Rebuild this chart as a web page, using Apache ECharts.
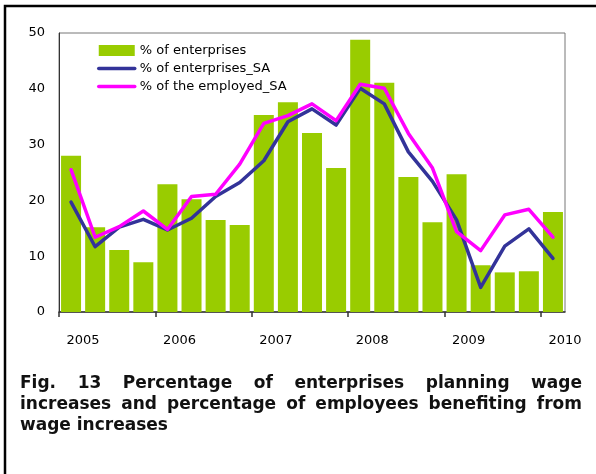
<!DOCTYPE html>
<html>
<head>
<meta charset="utf-8">
<script src="https://cdn.jsdelivr.net/npm/echarts@6/dist/echarts.min.js"></script>
<style>
html,body{margin:0;padding:0;background:#fff;}
#chart{width:596px;height:474px;}
</style>
</head>
<body>
<div id="chart"></div>
<script>
// ---- data ----
const categories = ['2005Q1','2005Q2','2005Q3','2005Q4','2006Q1','2006Q2','2006Q3','2006Q4',
  '2007Q1','2007Q2','2007Q3','2007Q4','2008Q1','2008Q2','2008Q3','2008Q4',
  '2009Q1','2009Q2','2009Q3','2009Q4','2010Q1'];
const yearLabels = ['2005','2006','2007','2008','2009','2010'];
const enterprises = [28.0,15.2,11.1,8.9,22.9,20.2,16.5,15.6,35.3,37.6,32.1,25.8,48.8,41.1,24.2,16.1,24.7,8.4,7.1,7.3,17.9];
const enterprisesSA = [19.7,11.7,15.2,16.6,14.7,16.8,20.7,23.2,27.1,34.1,36.4,33.5,40.1,37.3,28.7,23.4,16.5,4.4,11.8,14.9,9.6];
const employedSA = [25.5,13.4,15.3,18.1,14.8,20.7,21.1,26.5,33.8,35.2,37.3,34.3,40.8,40.1,32.0,25.8,14.4,11.0,17.4,18.4,13.4];
const seriesNames = ['% of enterprises','% of enterprises_SA','% of the employed_SA'];
const captionLines = [
  'Fig. 13 Percentage of enterprises planning wage',
  'increases and percentage of employees benefiting from',
  'wage increases'
];

// ---- caption layout (justified) ----
const capFont = 'bold 17px "DejaVu Sans"';
const capLeft = 20, capRight = 582, capTop = 384, capLineH = 21;
const mctx = document.createElement('canvas').getContext('2d');
mctx.font = capFont;
const captionGraphics = [];
captionLines.forEach(function (line, li) {
  const words = line.split(' ');
  const y = capTop + li * capLineH;
  const last = li === captionLines.length - 1;
  const widths = words.map(w => mctx.measureText(w).width);
  const total = widths.reduce((a, b) => a + b, 0);
  const spaceW = mctx.measureText(' ').width;
  let gap = last ? spaceW : (capRight - capLeft - total) / (words.length - 1);
  let x = capLeft;
  words.forEach(function (w, i) {
    captionGraphics.push({
      type: 'text', x: x, y: y,
      style: { text: w, font: capFont, fill: '#111', verticalAlign: 'middle', align: 'left' }
    });
    x += widths[i] + gap;
  });
});

const chart = echarts.init(document.getElementById('chart'), null, { renderer: 'canvas' });
const labelFont = { fontFamily: 'DejaVu Sans', fontSize: 13, color: '#000' };

chart.setOption({
  animation: false,
  backgroundColor: '#fff',
  grid: { left: 59, top: 33, width: 506, height: 279, show: true, borderColor: '#777', borderWidth: 1, backgroundColor: 'transparent' },
  legend: {
    orient: 'vertical', left: 92, top: 39, itemWidth: 36, itemHeight: 11, itemGap: 5,
    textStyle: { fontFamily: 'DejaVu Sans', fontSize: 13, color: '#000' },
    data: [
      { name: seriesNames[0], icon: 'rect' },
      { name: seriesNames[1], itemStyle: { opacity: 0 }, lineStyle: { color: '#333399', width: 3.5, cap: 'round' } },
      { name: seriesNames[2], itemStyle: { opacity: 0 }, lineStyle: { color: '#FF00FF', width: 3.5, cap: 'round' } }
    ]
  },
  xAxis: [
    {
      type: 'category', data: categories, boundaryGap: true,
      axisLine: { show: true, lineStyle: { color: '#333', width: 1.5 } },
      axisTick: { show: false }, axisLabel: { show: false }, splitLine: { show: false }
    },
    {
      type: 'value', min: 0, max: categories.length, position: 'bottom',
      axisLine: { show: false },
      axisTick: { show: true, length: 5, lineStyle: { color: '#333', width: 1.5 }, customValues: [0, 4, 8, 12, 16, 20] },
      axisLabel: Object.assign({ margin: 22, customValues: [1, 5, 9, 13, 17, 21],
        formatter: function (v) { return yearLabels[Math.round((v - 1) / 4)]; } }, labelFont),
      splitLine: { show: false }
    }
  ],
  yAxis: {
    type: 'value', min: 0, max: 50, interval: 10,
    axisLine: { show: true, lineStyle: { color: '#333' } },
    axisTick: { show: false },
    axisLabel: Object.assign({ margin: 14 }, labelFont),
    splitLine: { show: false }
  },
  series: [
    { name: seriesNames[0], type: 'bar', data: enterprises, barCategoryGap: '17%', itemStyle: { color: '#99CC00' } },
    { name: seriesNames[1], type: 'line', data: enterprisesSA, symbol: 'none', itemStyle: { color: '#333399' },
      lineStyle: { color: '#333399', width: 3.5, cap: 'round', join: 'round' } },
    { name: seriesNames[2], type: 'line', data: employedSA, symbol: 'none', itemStyle: { color: '#FF00FF' },
      lineStyle: { color: '#FF00FF', width: 3.5, cap: 'round', join: 'round' } }
  ],
  graphic: [
    { type: 'polyline', shape: { points: [[5, 474], [5, 6], [596, 6]] }, style: { stroke: '#000', lineWidth: 2.5, fill: null } }
  ].concat(captionGraphics)
});
</script>
</body>
</html>
